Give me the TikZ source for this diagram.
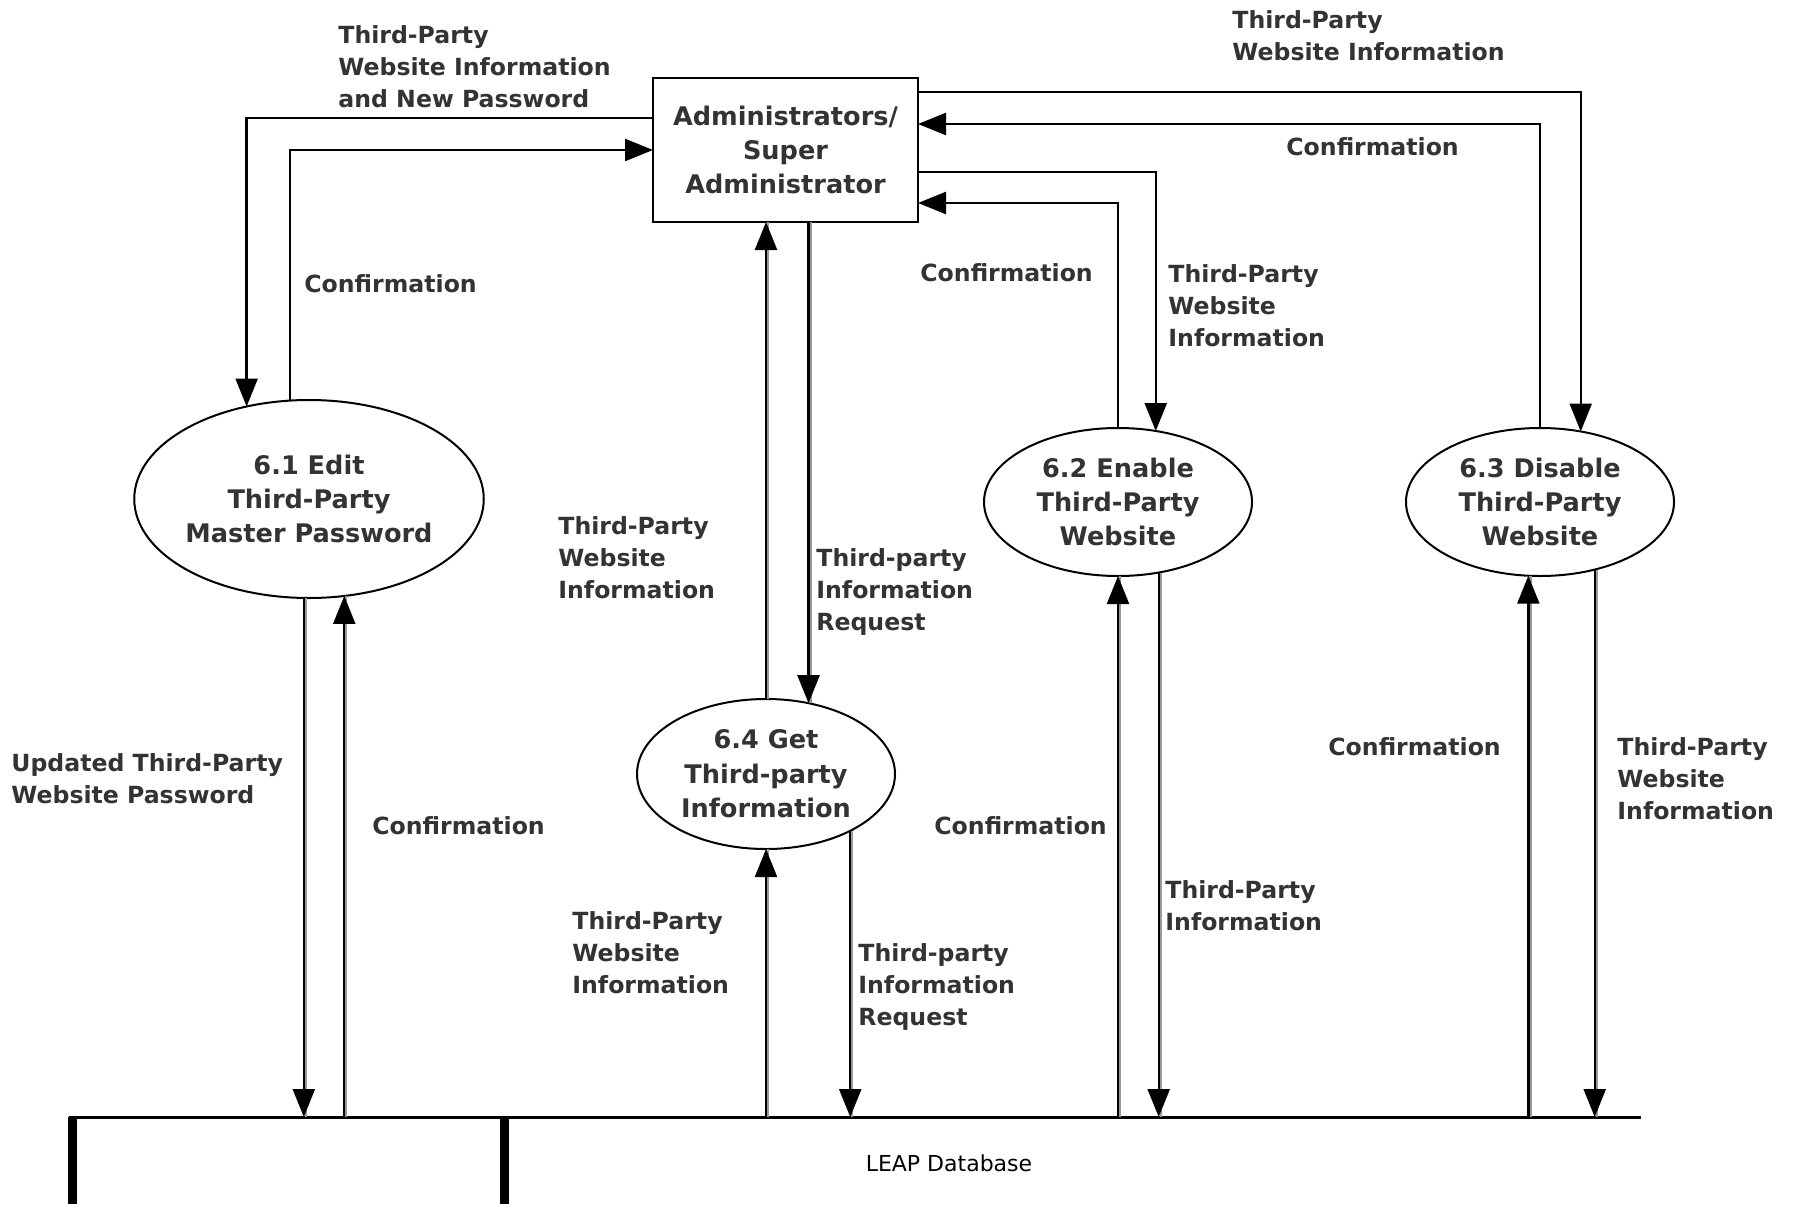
\documentclass[tikz,border=0pt]{standalone}
\usepackage{fontspec}
\setmainfont{DejaVu Sans}
\usetikzlibrary{arrows.meta,shapes.geometric}
\definecolor{inkgray}{HTML}{333333}
\begin{document}
\begin{tikzpicture}[x=0.5pt, y=-0.5pt,
    flow/.style={-{Triangle[length=14pt,width=11pt]}, line width=1.2pt},
    shadowed/.style={preaction={draw=black!40, line width=1.2pt, -, transform canvas={xshift=1pt}}},
    process/.style={ellipse, draw, line width=1pt, inner sep=0pt, outer sep=0pt, align=center, text=inkgray, font=\bfseries\fontsize{12.8}{17.2}\selectfont},
    entity/.style={rectangle, draw, line width=1.2pt, inner sep=0pt, outer sep=0pt, align=center, text=inkgray, font=\bfseries\fontsize{12.8}{17.2}\selectfont},
    lbl/.style={anchor=north west, inner sep=0pt, align=left, text=inkgray, font=\bfseries\fontsize{11.8}{16}\selectfont}]
    \useasboundingbox (0,0) rectangle (1797,1204);
    % external entity and processes
    \node[entity, minimum width=132.5pt, minimum height=72pt] (admin) at (785.5,150) {Administrators/\\Super\\Administrator};
    \node[process, minimum width=174pt, minimum height=99pt] (edit) at (309,499) {6.1 Edit\\Third-Party\\Master Password};
    \node[process, minimum width=129pt, minimum height=75pt] (get) at (766,774) {6.4 Get\\Third-party\\Information};
    \node[process, minimum width=134pt, minimum height=74pt] (enable) at (1118,502) {6.2 Enable\\Third-Party\\Website};
    \node[process, minimum width=134pt, minimum height=74pt] (disable) at (1540,502) {6.3 Disable\\Third-Party\\Website};
    % data store
    \coordinate (db) at (69,1117);
    \draw[line width=1.5pt] (db) -- (1641,1117);
    \draw[line width=4.5pt] (72,1117) -- (72,1204);
    \draw[line width=4.5pt] (504,1117) -- (504,1204);
    \node[text=black, font=\fontsize{11}{13}\selectfont] (dblabel) at (949,1163) {LEAP Database};
    % flows to and from the administrator
    \draw[flow] ([yshift=16pt]admin.west) -| (edit.124);
    \draw[flow] (edit.101) |- (admin.west);
    \draw[flow] ([yshift=29pt]admin.east) -| (disable.60);
    \draw[flow] (disable.north) |- ([yshift=13pt]admin.east);
    \draw[flow] ([yshift=-11pt]admin.east) -| (enable.62);
    \draw[flow] (enable.north) |- ([yshift=-26.5pt]admin.east);
    \draw[flow, shadowed] (get.north) -- (get.north |- admin.south);
    \draw[flow, shadowed] (get.59 |- admin.south) -- (get.59);
    % flows to and from the database
    \draw[flow, shadowed] (edit.267) -- (edit.267 |- db);
    \draw[flow, shadowed] (edit.290 |- db) -- (edit.290);
    \draw[flow, shadowed] (get.south |- db) -- (get.south);
    \draw[flow, shadowed] (get.326) -- (get.326 |- db);
    \draw[flow, shadowed] (enable.south |- db) -- (enable.south);
    \draw[flow, shadowed] (enable.300) -- (enable.300 |- db);
    \draw[flow, shadowed] (disable.261 |- db) -- (disable.261);
    \draw[flow, shadowed] (disable.309) -- (disable.309 |- db);
    % labels
    \node[lbl] (l1) at (338,25) {Third-Party\\Website Information\\and New Password};
    \node[lbl] (l2) at (304,274) {Confirmation};
    \node[lbl] (l3) at (1232,10) {Third-Party\\Website Information};
    \node[lbl] (l4) at (1286,137) {Confirmation};
    \node[lbl] (l5) at (920,263) {Confirmation};
    \node[lbl] (l6) at (1168,264) {Third-Party\\Website\\Information};
    \node[lbl] (l7) at (558,516) {Third-Party\\Website\\Information};
    \node[lbl] (l8) at (816,548) {Third-party\\Information\\Request};
    \node[lbl] (l9) at (11,753) {Updated Third-Party\\Website Password};
    \node[lbl] (l10) at (372,816) {Confirmation};
    \node[lbl] (l11) at (572,911) {Third-Party\\Website\\Information};
    \node[lbl] (l12) at (858,943) {Third-party\\Information\\Request};
    \node[lbl] (l13) at (934,816) {Confirmation};
    \node[lbl] (l14) at (1165,880) {Third-Party\\Information};
    \node[lbl] (l15) at (1328,737) {Confirmation};
    \node[lbl] (l16) at (1617,737) {Third-Party\\Website\\Information};
\end{tikzpicture}
\end{document}
